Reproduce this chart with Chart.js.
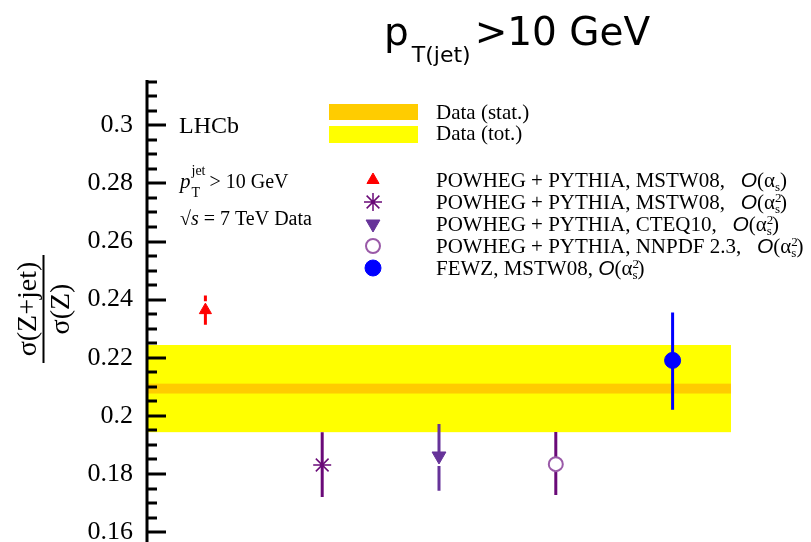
<!DOCTYPE html>
<html>
<head>
<meta charset="utf-8">
<script src="https://cdn.jsdelivr.net/npm/chart.js@4.4.1/dist/chart.umd.min.js"></script>
<style>
  html, body { margin: 0; padding: 0; background: #fff; }
  #wrap { width: 811px; height: 542px; position: relative; }
</style>
</head>
<body>
<div id="wrap"><canvas id="ratioChart"></canvas></div>
<script>
// model predictions, one point each
const seriesNames = [
    "POWHEG + PYTHIA, MSTW08,   ",
    "POWHEG + PYTHIA, MSTW08,   ",
    "POWHEG + PYTHIA, CTEQ10,   ",
    "POWHEG + PYTHIA, NNPDF 2.3,   ",
    "FEWZ, MSTW08, "
];
const seriesOrder = ["1", "2", "2", "2", "2"];   // power of alpha_s
const xPositions = [0.5, 1.5, 2.5, 3.5, 4.5];
const ratioValues = [0.2364, 0.1831, 0.1862, 0.1834, 0.2191];
const errDown = [0.0050, 0.0110, 0.0120, 0.0106, 0.0170];
const errUp = [0.0050, 0.0113, 0.0110, 0.0111, 0.0165];

// measured data band
const dataCentral = 0.2094;
const dataStat = 0.0017;
const dataTot = 0.0150;

const yTickValues = [0.16, 0.18, 0.20, 0.22, 0.24, 0.26, 0.28, 0.30];
const yTickLabels = ["0.16", "0.18", "0.2", "0.22", "0.24", "0.26", "0.28", "0.3"];

const colors = ["#ff0000", "#6a0a78", "#663399", "#6a0a78", "#0000ff"];
const markerColors = ["#ff0000", "#6a0a78", "#663399", "#9a5aa8", "#0000ff"];
const serif = "'Liberation Serif', 'DejaVu Serif', serif";

const pointStyles = ["triangle", "star", "triangle", "circle", "circle"];
const rotations = [0, 0, 180, 0, 0];
const radii = [7, 9, 8, 7, 8];
const fills = ["#ff0000", "#6a0a78", "#663399", "#ffffff", "#0000ff"];
const borderWidths = [1, 1.5, 1, 2, 1];
// little white gap between bar and marker tip (px)
const gapUp = [9, 0, 0, 0, 0];
const gapDown = [0, 0, 10, 0, 0];

// draws a list of text pieces one after the other
function drawPieces(ctx, x, y, pieces) {
    ctx.textBaseline = "alphabetic";
    ctx.textAlign = "left";
    pieces.forEach(function (p) {
        ctx.font = p.font;
        ctx.fillText(p.t, x + (p.dx || 0), y + (p.dy || 0));
        if (!p.stay) x += ctx.measureText(p.t).width + (p.dx || 0);
    });
    return x;
}

function alphaPieces(order) {
    const big = "21px " + serif;
    const small = "13px " + serif;
    const out = [
        { t: "O", font: "italic 21px 'Liberation Sans', Arial, sans-serif" },
        { t: "(", font: big },
        { t: "\u03b1", font: big }
    ];
    if (order === "2") {
        out.push({ t: "2", font: small, dy: -7, stay: true });
        out.push({ t: "s", font: small, dy: 4 });
    } else {
        out.push({ t: "s", font: small, dy: 4 });
    }
    out.push({ t: ")", font: big });
    return out;
}

const decorations = {
    id: "decorations",
    beforeDatasetsDraw(chart) {
        const ctx = chart.ctx;
        const xs = chart.scales.x, ys = chart.scales.y;
        const l = xs.getPixelForValue(0), r = xs.getPixelForValue(5);
        ctx.save();
        ctx.fillStyle = "#ffff00";
        let t = ys.getPixelForValue(dataCentral + dataTot), b = ys.getPixelForValue(dataCentral - dataTot);
        ctx.fillRect(l, t, r - l, b - t);
        ctx.fillStyle = "#ffcc00";
        t = ys.getPixelForValue(dataCentral + dataStat); b = ys.getPixelForValue(dataCentral - dataStat);
        ctx.fillRect(l, t, r - l, b - t);

        // error bars
        ctx.lineWidth = 3;
        ratioValues.forEach(function (v, i) {
            const px = xs.getPixelForValue(xPositions[i]);
            const py = ys.getPixelForValue(v);
            ctx.strokeStyle = colors[i];
            ctx.beginPath();
            ctx.moveTo(px, ys.getPixelForValue(v + errUp[i]));
            ctx.lineTo(px, py - gapUp[i]);
            ctx.moveTo(px, py + gapDown[i]);
            ctx.lineTo(px, ys.getPixelForValue(v - errDown[i]));
            ctx.stroke();
        });
        ctx.restore();
    },
    afterDraw(chart) {
        const ctx = chart.ctx;
        const ys = chart.scales.y;
        const area = chart.chartArea;
        ctx.save();

        // axis line with inward ticks
        ctx.strokeStyle = "#000";
        ctx.lineWidth = 3;
        ctx.beginPath();
        ctx.moveTo(area.left, area.top);
        ctx.lineTo(area.left, area.bottom);
        ctx.stroke();
        for (let k = 0; k <= 40; k++) {
            const v = 0.155 + k * 0.005;
            if (v < ys.min || v > ys.max) continue;
            const py = Math.round(ys.getPixelForValue(v));
            const major = Math.abs((v * 100 + 1e-9) % 2) < 0.01 || Math.abs((v * 100) % 2 - 2) < 0.01;
            ctx.beginPath();
            ctx.moveTo(area.left, py);
            ctx.lineTo(area.left + (major ? 19 : 10), py);
            ctx.stroke();
        }

        // y title as a fraction
        ctx.translate(44, 309);
        ctx.rotate(-Math.PI / 2);
        ctx.fillStyle = "#000";
        ctx.textAlign = "center";
        ctx.font = "28px " + serif;
        ctx.textBaseline = "alphabetic";
        ctx.fillText("\u03c3(Z+jet)", 0, -8);
        ctx.textBaseline = "top";
        ctx.fillText("\u03c3(Z)", 0, 4);
        ctx.fillRect(-54, -1.5, 108, 2);
        ctx.setTransform(1, 0, 0, 1, 0, 0);

        // title
        ctx.fillStyle = "#000";
        let x = drawPieces(ctx, 384, 45, [{ t: "p", font: "39px 'DejaVu Sans', sans-serif" }]);
        x = drawPieces(ctx, x + 3, 62, [{ t: "T(jet)", font: "22px 'DejaVu Sans', sans-serif" }]);
        drawPieces(ctx, x + 4, 45, [{ t: ">10 GeV", font: "39px 'DejaVu Sans', sans-serif" }]);

        // LHCb text block
        drawPieces(ctx, 179, 133, [{ t: "LHCb", font: "24px " + serif }]);
        x = drawPieces(ctx, 180, 188, [{ t: "p", font: "italic 21px " + serif }]);
        drawPieces(ctx, x + 1, 175, [{ t: "jet", font: "14px " + serif }]);
        drawPieces(ctx, x + 1, 197, [{ t: "T", font: "14px " + serif }]);
        drawPieces(ctx, x + 19, 188, [{ t: "> 10 GeV", font: "20px " + serif }]);
        drawPieces(ctx, 180, 225, [
            { t: "\u221a", font: "20px " + serif },
            { t: "s", font: "italic 20px " + serif },
            { t: " = 7 TeV Data", font: "20px " + serif }
        ]);

        // data legend
        ctx.fillStyle = "#ffcc00";
        ctx.fillRect(329, 104, 89, 16);
        ctx.fillStyle = "#ffff00";
        ctx.fillRect(329, 126, 89, 17);
        ctx.fillStyle = "#000";
        drawPieces(ctx, 436, 119, [{ t: "Data (stat.)", font: "21px " + serif }]);
        drawPieces(ctx, 436, 140, [{ t: "Data (tot.)", font: "21px " + serif }]);

        // model legend
        const styles = chart.data.datasets;
        seriesNames.forEach(function (name, i) {
            const ly = 180 + i * 22;
            const ds = styles[i];
            ctx.strokeStyle = ds.borderColor;
            ctx.fillStyle = ds.backgroundColor;
            ctx.lineWidth = ds.borderWidth;
            Chart.helpers.drawPoint(ctx, {
                pointStyle: ds.pointStyle,
                rotation: ds.rotation || 0,
                radius: ds.pointRadius,
                borderWidth: ds.borderWidth
            }, 373, ly);
            ctx.fillStyle = "#000";
            let tx = drawPieces(ctx, 436, ly + 7, [{ t: name, font: "21px " + serif }]);
            drawPieces(ctx, tx, ly + 7, alphaPieces(seriesOrder[i]));
        });
        ctx.restore();
    }
};

const ctx = document.getElementById("ratioChart").getContext("2d");
const chart = new Chart(ctx, {
    type: "scatter",
    data: {
        datasets: ratioValues.map(function (v, i) {
            return {
                label: seriesNames[i],
                data: [{ x: xPositions[i], y: v }],
                pointStyle: pointStyles[i],
                rotation: rotations[i],
                pointRadius: radii[i],
                backgroundColor: fills[i],
                borderColor: markerColors[i],
                borderWidth: borderWidths[i]
            };
        })
    },
    options: {
        responsive: true,
        maintainAspectRatio: false,
        animation: false,
        layout: { autoPadding: false, padding: { top: 80, right: 80, bottom: 0, left: 0 } },
        plugins: { legend: { display: false }, tooltip: { enabled: false } },
        scales: {
            x: { type: "linear", min: 0, max: 5, display: false },
            y: {
                min: 0.1566,
                max: 0.3156,
                grid: { display: false },
                border: { display: false },
                afterFit: function (scale) {
                    scale.width = 147;
                    scale.paddingTop = 0;
                    scale.paddingBottom = 0;
                },
                afterBuildTicks: function (scale) {
                    scale.ticks = yTickValues.map(function (v) { return { value: v }; });
                },
                ticks: {
                    padding: 6,
                    color: "#000",
                    font: { family: serif, size: 26 },
                    callback: function (value) {
                        const idx = yTickValues.findIndex(function (t) { return Math.abs(t - value) < 1e-6; });
                        return idx >= 0 ? yTickLabels[idx] : "";
                    }
                }
            }
        }
    },
    plugins: [decorations]
});
</script>
</body>
</html>
